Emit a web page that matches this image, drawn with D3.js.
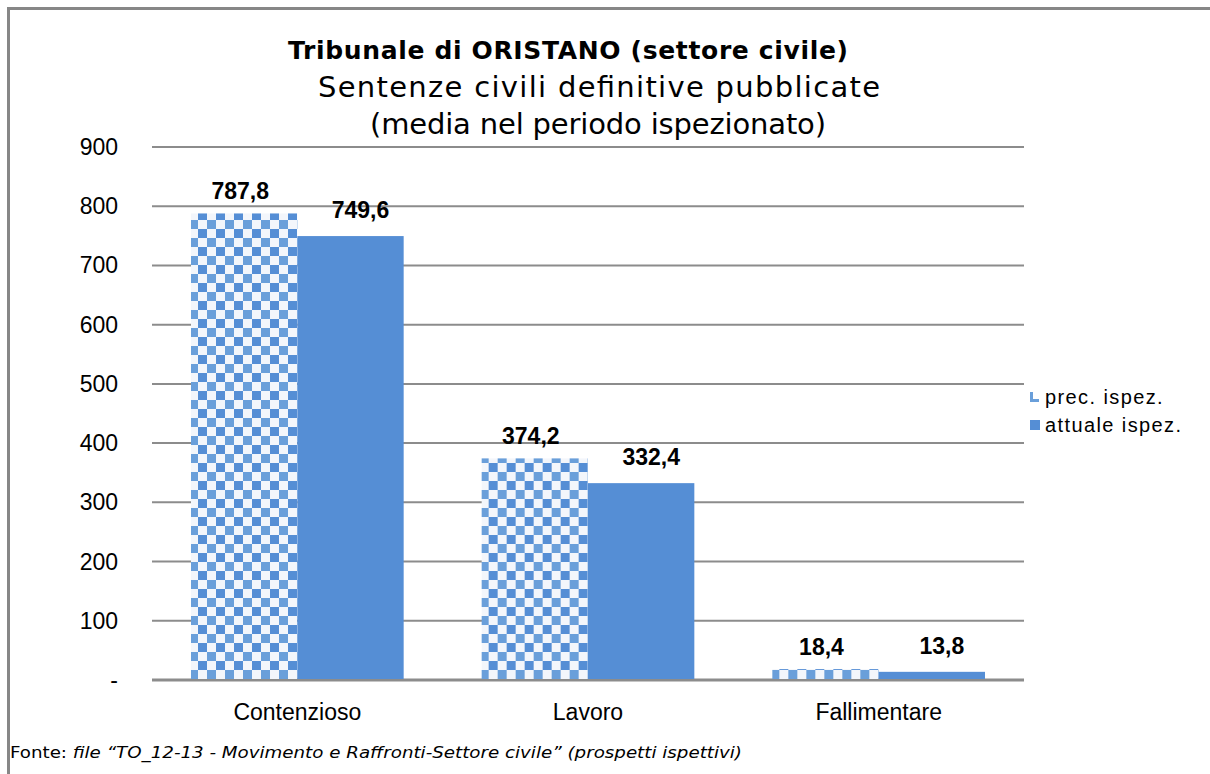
<!DOCTYPE html>
<html>
<head>
<script src="https://d3js.org/d3.v7.min.js"></script>
<style>
  body { margin: 0; background: #fff; }
  svg { display: block; font-family: Arial, "Liberation Sans", sans-serif; }
</style>
</head>
<body>
<div id="container"></div>
<script>
// data
var categories = ["Contenzioso", "Lavoro", "Fallimentare"];
var series = ["prec. ispez.", "attuale ispez."];
var precValues = [787.8, 374.2, 18.4];
var attualeValues = [749.6, 332.4, 13.8];
var yTicks = [0, 100, 200, 300, 400, 500, 600, 700, 800, 900];

var width = 1210, height = 774;
var plotLeft = 152, plotRight = 1024, plotTop = 147, plotBottom = 680;
var blue = "#558ED5";

var svg = d3.select("#container").append("svg")
    .attr("width", width)
    .attr("height", height);

// checker pattern for the previous inspection
var defs = svg.append("defs");
var pat = defs.append("pattern")
    .attr("id", "checker")
    .attr("patternUnits", "userSpaceOnUse")
    .attr("x", 190).attr("y", 4)
    .attr("width", 18).attr("height", 18);
pat.append("rect").attr("width", 18).attr("height", 18).attr("fill", "#f3f6fb");
pat.append("rect").attr("x", 9).attr("y", 0).attr("width", 9).attr("height", 9).attr("fill", "#6a9fda");
pat.append("rect").attr("x", 0).attr("y", 9).attr("width", 9).attr("height", 9).attr("fill", blue);

// outer frame
svg.append("path")
    .attr("d", "M8.5," + (height + 5) + "V8.5H" + (width + 5))
    .attr("fill", "none")
    .attr("stroke", "#878787")
    .attr("stroke-width", 3);

var y = d3.scaleLinear().domain([0, 900]).range([plotBottom, plotTop]);
var x = d3.scaleBand().domain(categories).range([plotLeft, plotRight]).padding(0);
var x1 = d3.scaleBand().domain(series).range([39, x.bandwidth() - 39]).padding(0);

// gridlines
svg.append("g").selectAll("line")
    .data(yTicks)
  .enter().append("line")
    .attr("x1", plotLeft).attr("x2", plotRight)
    .attr("y1", function(d) { return y(d); })
    .attr("y2", function(d) { return y(d); })
    .attr("stroke", "#8c8c8c")
    .attr("stroke-width", function(d) { return d === 0 ? 3 : 2; });

// y labels
svg.append("g").selectAll("text")
    .data(yTicks)
  .enter().append("text")
    .attr("x", 118)
    .attr("y", function(d) { return y(d); })
    .attr("dy", "0.35em")
    .attr("text-anchor", "end")
    .attr("font-size", 23)
    .text(function(d) { return d === 0 ? "-" : d; });

var rows = categories.map(function(c, i) {
  return [{cat: c, s: series[0], v: precValues[i]}, {cat: c, s: series[1], v: attualeValues[i]}];
});

var groups = svg.append("g").selectAll("g")
    .data(rows)
  .enter().append("g")
    .attr("transform", function(d) { return "translate(" + x(d[0].cat) + ",0)"; });

groups.selectAll("rect")
    .data(function(d) { return d; })
  .enter().append("rect")
    .attr("x", function(d) { return x1(d.s); })
    .attr("width", x1.bandwidth())
    .attr("y", function(d) { return y(d.v); })
    .attr("height", function(d) { return y(0) - y(d.v) - 1; })
    .attr("fill", function(d) { return d.s === series[0] ? "url(#checker)" : blue; });

groups.selectAll("text")
    .data(function(d) { return d; })
  .enter().append("text")
    .attr("x", function(d) { return x1(d.s) + x1.bandwidth() / 2 + (d.s === series[0] ? -4 : 10); })
    .attr("y", function(d) { return y(d.v) - (d.s === series[0] ? 14 : 18); })
    .attr("text-anchor", "middle")
    .attr("font-size", 23)
    .attr("font-weight", "bold")
    .text(function(d) { return d3.format(".1f")(d.v).replace(".", ","); });

// x labels
svg.append("g").selectAll("text")
    .data(categories)
  .enter().append("text")
    .attr("x", function(d) { return x(d) + x.bandwidth() / 2; })
    .attr("y", 720)
    .attr("text-anchor", "middle")
    .attr("font-size", 23)
    .text(function(d) { return d; });

// titles
var titleFont = "Verdana, 'DejaVu Sans', sans-serif";
svg.append("text")
    .attr("x", 568).attr("y", 59)
    .attr("text-anchor", "middle")
    .attr("font-family", titleFont)
    .attr("font-size", 25)
    .attr("font-weight", "bold")
    .attr("textLength", 560)
    .attr("lengthAdjust", "spacing")
    .text("Tribunale di ORISTANO (settore civile)");
svg.append("text")
    .attr("x", 599).attr("y", 97)
    .attr("text-anchor", "middle")
    .attr("font-family", titleFont)
    .attr("font-size", 29)
    .attr("textLength", 562)
    .attr("lengthAdjust", "spacing")
    .text("Sentenze civili definitive pubblicate");
svg.append("text")
    .attr("x", 598).attr("y", 134)
    .attr("text-anchor", "middle")
    .attr("font-family", titleFont)
    .attr("font-size", 29)
    .attr("textLength", 456)
    .attr("lengthAdjust", "spacing")
    .text("(media nel periodo ispezionato)");

// legend
var legend = svg.append("g").selectAll("g")
    .data(series)
  .enter().append("g")
    .attr("transform", function(d, i) { return "translate(1030," + (397 + i * 28) + ")"; });
legend.append("rect")
    .attr("x", 0).attr("y", -5)
    .attr("width", 10).attr("height", 10)
    .attr("fill", function(d, i) { return i === 0 ? "none" : blue; });
legend.filter(function(d, i) { return i === 0; }).append("path")
    .attr("d", "M1.5,-5V3.5H9")
    .attr("fill", "none")
    .attr("stroke", "#6a9fda")
    .attr("stroke-width", 3);
legend.append("text")
    .attr("x", 15).attr("dy", "0.35em")
    .attr("font-size", 20)
    .attr("letter-spacing", 1.4)
    .text(function(d) { return d; });

// source note
var note = svg.append("text")
    .attr("x", 10).attr("y", 758)
    .attr("font-family", "'DejaVu Sans Condensed', 'DejaVu Sans', sans-serif")
    .attr("font-size", 15)
    .attr("textLength", 732)
    .attr("lengthAdjust", "spacingAndGlyphs");
note.append("tspan").text("Fonte: ");
note.append("tspan").attr("font-style", "italic")
    .text("file \u201cTO_12-13 - Movimento e Raffronti-Settore civile\u201d (prospetti ispettivi)");
</script>
</body>
</html>
